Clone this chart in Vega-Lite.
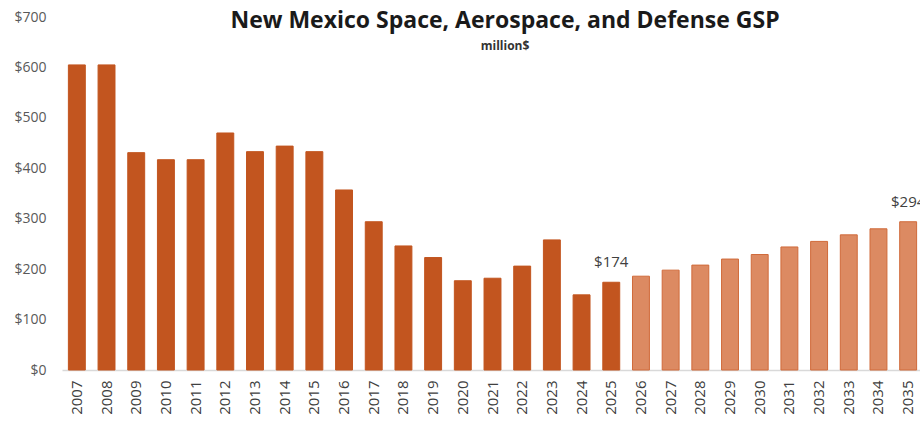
{
  "$schema": "https://vega.github.io/schema/vega-lite/v6.json",
  "autosize": {"type": "none"},
  "width": 858,
  "height": 353,
  "padding": {"left": 62, "top": 17, "right": 0, "bottom": 51},
  "background": "white",
  "config": {"view": {"stroke": null}, "font": "Open Sans"},
  "title": {
    "text": "New Mexico Space, Aerospace, and Defense GSP",
    "subtitle": "million$",
    "anchor": "middle",
    "frame": "group",
    "offset": -42,
    "dx": 14,
    "font": "Open Sans",
    "fontSize": 23,
    "fontWeight": "bold",
    "color": "#1a1a1a",
    "subtitleFont": "Open Sans",
    "subtitleFontSize": 12,
    "subtitleFontWeight": "bold",
    "subtitleColor": "#333333",
    "subtitlePadding": 8
  },
  "data": {
    "values": [
      {"year": "2007", "value": 605, "type": "Actual", "label": null},
      {"year": "2008", "value": 605, "type": "Actual", "label": null},
      {"year": "2009", "value": 431, "type": "Actual", "label": null},
      {"year": "2010", "value": 417, "type": "Actual", "label": null},
      {"year": "2011", "value": 417, "type": "Actual", "label": null},
      {"year": "2012", "value": 470, "type": "Actual", "label": null},
      {"year": "2013", "value": 433, "type": "Actual", "label": null},
      {"year": "2014", "value": 444, "type": "Actual", "label": null},
      {"year": "2015", "value": 433, "type": "Actual", "label": null},
      {"year": "2016", "value": 357, "type": "Actual", "label": null},
      {"year": "2017", "value": 294, "type": "Actual", "label": null},
      {"year": "2018", "value": 246, "type": "Actual", "label": null},
      {"year": "2019", "value": 223, "type": "Actual", "label": null},
      {"year": "2020", "value": 177, "type": "Actual", "label": null},
      {"year": "2021", "value": 182, "type": "Actual", "label": null},
      {"year": "2022", "value": 206, "type": "Actual", "label": null},
      {"year": "2023", "value": 258, "type": "Actual", "label": null},
      {"year": "2024", "value": 149, "type": "Actual", "label": null},
      {"year": "2025", "value": 174, "type": "Actual", "label": "$174"},
      {"year": "2026", "value": 186, "type": "Forecast", "label": null},
      {"year": "2027", "value": 198, "type": "Forecast", "label": null},
      {"year": "2028", "value": 208, "type": "Forecast", "label": null},
      {"year": "2029", "value": 220, "type": "Forecast", "label": null},
      {"year": "2030", "value": 229, "type": "Forecast", "label": null},
      {"year": "2031", "value": 244, "type": "Forecast", "label": null},
      {"year": "2032", "value": 255, "type": "Forecast", "label": null},
      {"year": "2033", "value": 268, "type": "Forecast", "label": null},
      {"year": "2034", "value": 280, "type": "Forecast", "label": null},
      {"year": "2035", "value": 294, "type": "Forecast", "label": "$294"}
    ]
  },
  "encoding": {
    "x": {
      "field": "year",
      "type": "ordinal",
      "scale": {"range": [0, 861], "paddingInner": 0.43, "paddingOuter": 0.215},
      "axis": {
        "title": null,
        "labelAngle": -90,
        "labelPadding": 10,
        "ticks": false,
        "domainColor": "#D9D9D9",
        "domainWidth": 1.5,
        "labelColor": "#404040",
        "labelFontSize": 15,
        "labelFont": "Open Sans"
      }
    },
    "y": {
      "field": "value",
      "type": "quantitative",
      "scale": {"domain": [0, 700]},
      "axis": {
        "title": null,
        "values": [0, 100, 200, 300, 400, 500, 600, 700],
        "labelExpr": "'$' + datum.value",
        "grid": false,
        "domain": false,
        "ticks": false,
        "labelPadding": 16,
        "labelColor": "#595959",
        "labelFontSize": 14,
        "labelFont": "Open Sans"
      }
    }
  },
  "layer": [
    {
      "mark": {"type": "bar", "strokeWidth": 1},
      "encoding": {
        "color": {
          "field": "type",
          "type": "nominal",
          "scale": {"domain": ["Actual", "Forecast"], "range": ["#C2551F", "#DC8A62"]},
          "legend": null
        },
        "stroke": {
          "field": "type",
          "type": "nominal",
          "scale": {"domain": ["Actual", "Forecast"], "range": ["#C2551F", "#D06A3A"]},
          "legend": null
        }
      }
    },
    {
      "transform": [{"filter": "datum.label != null"}],
      "mark": {"type": "text", "baseline": "bottom", "dy": -12, "fontSize": 15, "color": "#404040", "font": "Open Sans"},
      "encoding": {"text": {"field": "label"}}
    }
  ]
}
